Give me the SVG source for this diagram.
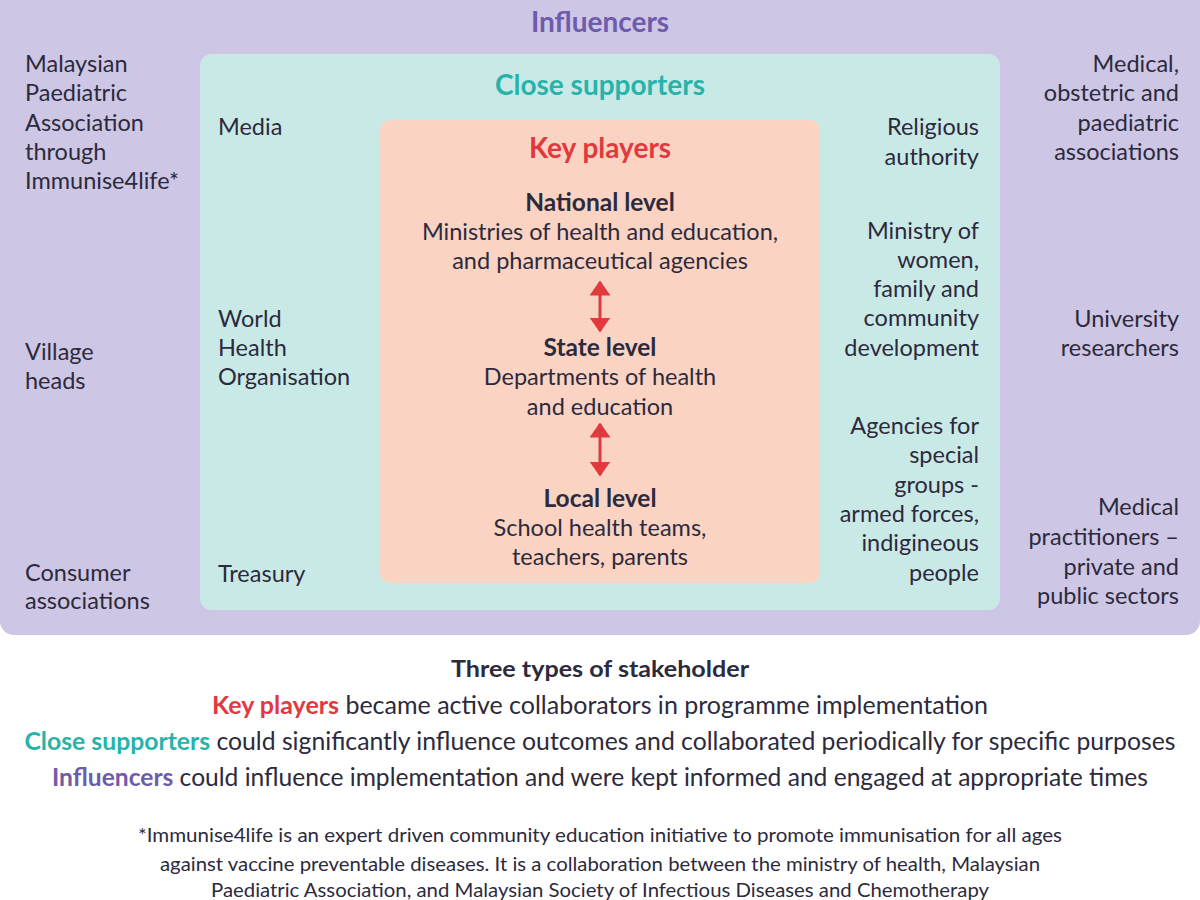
<svg xmlns="http://www.w3.org/2000/svg" width="1200" height="900" viewBox="0 0 1200 900">
<defs>
<style>
.t{font-family:Lato,"Liberation Sans",sans-serif;font-size:23.5px;fill:#2c2a3c}
.l{text-anchor:start}
.r{text-anchor:end}
.c{text-anchor:middle}
.b{font-weight:bold;font-size:24.5px}
.h{font-family:Lato,"Liberation Sans",sans-serif;font-size:28px;font-weight:bold;text-anchor:middle}
.bt{font-family:Lato,"Liberation Sans",sans-serif;font-size:25px;fill:#2c2a3c;text-anchor:middle}
.fn{font-family:Lato,"Liberation Sans",sans-serif;font-size:19px;fill:#2c2a3c;text-anchor:middle}
</style>
<marker id="ah" viewBox="0 0 10 14" refX="9" refY="7" markerWidth="5" markerHeight="7" orient="auto-start-reverse" markerUnits="strokeWidth">
<path d="M0,0 L10,7 L0,14 z" fill="#e0393e"/>
</marker>
</defs>
<rect width="1200" height="900" fill="#ffffff"/>
<g id="influencers">
<rect x="0" y="-20" width="1200" height="655" rx="14" fill="#cdc6e4"/>
<text class="h" x="600" y="32" fill="#6f5bab">Influencers</text>
<text class="t l" x="25"><tspan x="25" y="72">Malaysian</tspan><tspan x="25" y="101">Paediatric</tspan><tspan x="25" y="131">Association</tspan><tspan x="25" y="160">through</tspan><tspan x="25" y="189">Immunise4life*</tspan></text>
<text class="t l"><tspan x="25" y="360">Village</tspan><tspan x="25" y="389">heads</tspan></text>
<text class="t l"><tspan x="25" y="581">Consumer</tspan><tspan x="25" y="609">associations</tspan></text>
<text class="t r"><tspan x="1179" y="72">Medical,</tspan><tspan x="1179" y="101">obstetric and</tspan><tspan x="1179" y="131">paediatric</tspan><tspan x="1179" y="160">associations</tspan></text>
<text class="t r"><tspan x="1179" y="327">University</tspan><tspan x="1179" y="356">researchers</tspan></text>
<text class="t r"><tspan x="1179" y="515">Medical</tspan><tspan x="1179" y="545">practitioners –</tspan><tspan x="1179" y="575">private and</tspan><tspan x="1179" y="604">public sectors</tspan></text>
</g>
<g id="close-supporters">
<rect x="200" y="54" width="800" height="556" rx="12" fill="#c9e9e7"/>
<text class="h" x="600" y="95" fill="#28b3aa">Close supporters</text>
<text class="t l"><tspan x="218" y="135">Media</tspan></text>
<text class="t l"><tspan x="218" y="327">World</tspan><tspan x="218" y="356">Health</tspan><tspan x="218" y="385">Organisation</tspan></text>
<text class="t l"><tspan x="218" y="582">Treasury</tspan></text>
<text class="t r"><tspan x="979" y="135">Religious</tspan><tspan x="979" y="165">authority</tspan></text>
<text class="t r"><tspan x="979" y="239">Ministry of</tspan><tspan x="979" y="268">women,</tspan><tspan x="979" y="297">family and</tspan><tspan x="979" y="326">community</tspan><tspan x="979" y="356">development</tspan></text>
<text class="t r"><tspan x="979" y="434">Agencies for</tspan><tspan x="979" y="463">special</tspan><tspan x="979" y="493">groups -</tspan><tspan x="979" y="522">armed forces,</tspan><tspan x="979" y="551">indigineous</tspan><tspan x="979" y="581">people</tspan></text>
</g>
<g id="key-players">
<rect x="380" y="120" width="440" height="463" rx="10" fill="#fad3c3"/>
<text class="h" x="600" y="158" fill="#e0393e">Key players</text>
<g id="national-level">
<text class="t c b" x="600" y="211">National level</text>
<text class="t c" x="600" y="240">Ministries of health and education,</text>
<text class="t c" x="600" y="269">and pharmaceutical agencies</text>
</g>
<g id="state-level">
<text class="t c b" x="600" y="356">State level</text>
<text class="t c" x="600" y="385">Departments of health</text>
<text class="t c" x="600" y="415">and education</text>
</g>
<g id="local-level">
<text class="t c b" x="600" y="507">Local level</text>
<text class="t c" x="600" y="536">School health teams,</text>
<text class="t c" x="600" y="565">teachers, parents</text>
</g>
</g>
<g id="connectors" stroke="#e0393e" stroke-width="3" fill="none">
<line x1="600" y1="282" x2="600" y2="331" marker-start="url(#ah)" marker-end="url(#ah)"/>
<line x1="600" y1="424" x2="600" y2="475" marker-start="url(#ah)" marker-end="url(#ah)"/>
</g>
<g id="legend">
<text class="fn" x="600" y="677" font-weight="bold" style="font-size:22px" textLength="298" lengthAdjust="spacingAndGlyphs">Three types of stakeholder</text>
<text class="bt" x="600" y="714" textLength="776" lengthAdjust="spacingAndGlyphs"><tspan font-weight="bold" fill="#e0393e">Key players</tspan> became active collaborators in programme implementation</text>
<text class="bt" x="600" y="750" textLength="1151" lengthAdjust="spacingAndGlyphs"><tspan font-weight="bold" fill="#28b3aa">Close supporters</tspan> could significantly influence outcomes and collaborated periodically for specific purposes</text>
<text class="bt" x="600" y="786" textLength="1096" lengthAdjust="spacingAndGlyphs"><tspan font-weight="bold" fill="#6f5bab">Influencers</tspan> could influence implementation and were kept informed and engaged at appropriate times</text>
<text class="fn" x="600" y="842" textLength="924" lengthAdjust="spacingAndGlyphs">*Immunise4life is an expert driven community education initiative to promote immunisation for all ages</text>
<text class="fn" x="600" y="871" textLength="880" lengthAdjust="spacingAndGlyphs">against vaccine preventable diseases. It is a collaboration between the ministry of health, Malaysian</text>
<text class="fn" x="600" y="897" textLength="778" lengthAdjust="spacingAndGlyphs">Paediatric Association, and Malaysian Society of Infectious Diseases and Chemotherapy</text>
</g>
</svg>
